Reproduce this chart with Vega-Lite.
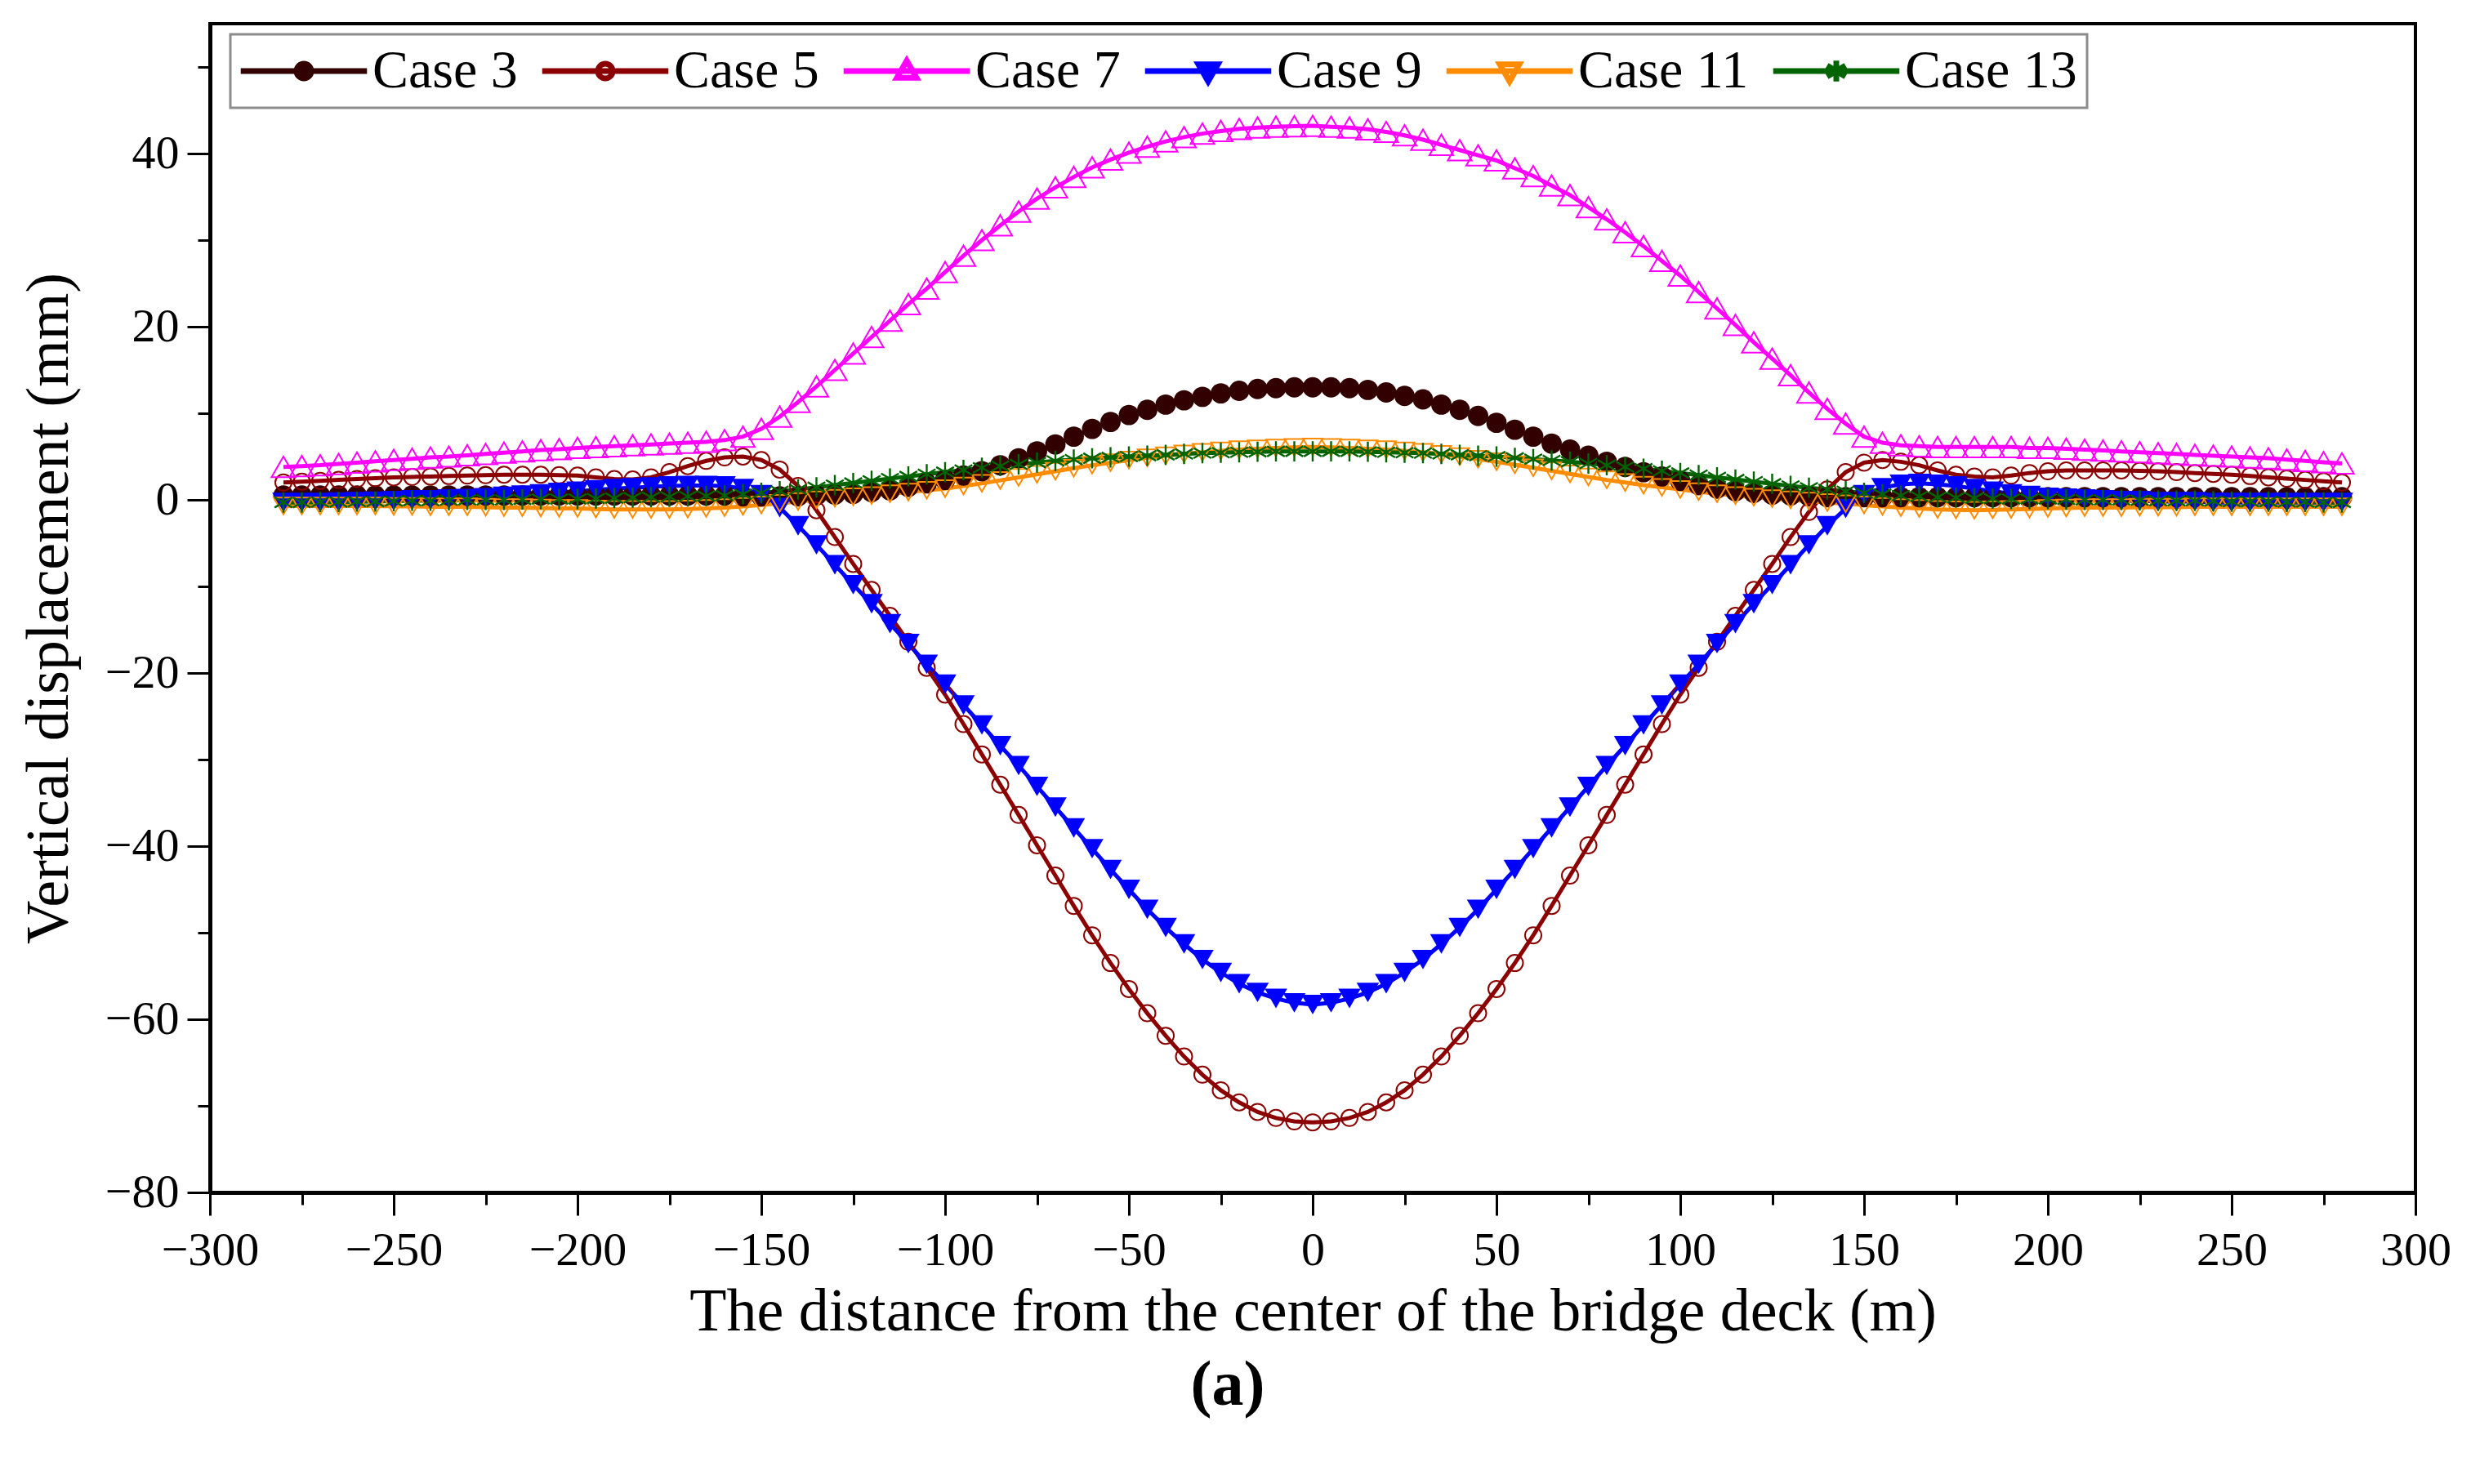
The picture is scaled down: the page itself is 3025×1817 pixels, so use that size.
{
  "$schema": "https://vega.github.io/schema/vega-lite/v6.json",
  "width": 2700,
  "height": 1431,
  "autosize": {"type": "none"},
  "padding": {"left": 257, "top": 29, "right": 68, "bottom": 357},
  "background": "white",
  "title": {
    "text": "(a)",
    "orient": "bottom",
    "anchor": "middle",
    "frame": "bounds",
    "font": "Liberation Serif",
    "fontSize": 78,
    "fontWeight": "bold",
    "color": "black",
    "offset": 15,
    "dx": -9
  },
  "data": {
    "values": [
      {"x":-280,"y":0.5,"case":"Case 3"},{"x":-275,"y":0.5,"case":"Case 3"},{"x":-270,"y":0.5,"case":"Case 3"},{"x":-265,"y":0.5,"case":"Case 3"},{"x":-260,"y":0.5,"case":"Case 3"},{"x":-255,"y":0.5,"case":"Case 3"},{"x":-250,"y":0.5,"case":"Case 3"},{"x":-245,"y":0.5,"case":"Case 3"},{"x":-240,"y":0.5,"case":"Case 3"},{"x":-235,"y":0.5,"case":"Case 3"},{"x":-230,"y":0.5,"case":"Case 3"},{"x":-225,"y":0.5,"case":"Case 3"},{"x":-220,"y":0.5,"case":"Case 3"},{"x":-215,"y":0.5,"case":"Case 3"},{"x":-210,"y":0.5,"case":"Case 3"},{"x":-205,"y":0.5,"case":"Case 3"},{"x":-200,"y":0.5,"case":"Case 3"},{"x":-195,"y":0.5,"case":"Case 3"},{"x":-190,"y":0.5,"case":"Case 3"},{"x":-185,"y":0.5,"case":"Case 3"},{"x":-180,"y":0.5,"case":"Case 3"},{"x":-175,"y":0.5,"case":"Case 3"},{"x":-170,"y":0.5,"case":"Case 3"},{"x":-165,"y":0.5,"case":"Case 3"},{"x":-160,"y":0.5,"case":"Case 3"},
      {"x":-155,"y":0.4,"case":"Case 3"},{"x":-150,"y":0.4,"case":"Case 3"},{"x":-145,"y":0.4,"case":"Case 3"},{"x":-140,"y":0.4,"case":"Case 3"},{"x":-135,"y":0.5,"case":"Case 3"},{"x":-130,"y":0.6,"case":"Case 3"},{"x":-125,"y":0.7,"case":"Case 3"},{"x":-120,"y":0.9,"case":"Case 3"},{"x":-115,"y":1.1,"case":"Case 3"},{"x":-110,"y":1.5,"case":"Case 3"},{"x":-105,"y":1.9,"case":"Case 3"},{"x":-100,"y":2.3,"case":"Case 3"},{"x":-95,"y":2.8,"case":"Case 3"},{"x":-90,"y":3.3,"case":"Case 3"},{"x":-85,"y":4.0,"case":"Case 3"},{"x":-80,"y":4.8,"case":"Case 3"},{"x":-75,"y":5.6,"case":"Case 3"},{"x":-70,"y":6.4,"case":"Case 3"},{"x":-65,"y":7.3,"case":"Case 3"},{"x":-60,"y":8.2,"case":"Case 3"},{"x":-55,"y":9.0,"case":"Case 3"},{"x":-50,"y":9.8,"case":"Case 3"},{"x":-45,"y":10.4,"case":"Case 3"},{"x":-40,"y":11.0,"case":"Case 3"},{"x":-35,"y":11.5,"case":"Case 3"},{"x":-30,"y":11.9,"case":"Case 3"},{"x":-25,"y":12.3,"case":"Case 3"},{"x":-20,"y":12.6,"case":"Case 3"},{"x":-15,"y":12.8,"case":"Case 3"},{"x":-10,"y":12.9,"case":"Case 3"},{"x":-5,"y":13.0,"case":"Case 3"},{"x":0,"y":13.0,"case":"Case 3"},{"x":5,"y":13.0,"case":"Case 3"},{"x":10,"y":12.9,"case":"Case 3"},{"x":15,"y":12.7,"case":"Case 3"},{"x":20,"y":12.4,"case":"Case 3"},{"x":25,"y":12.0,"case":"Case 3"},{"x":30,"y":11.6,"case":"Case 3"},{"x":35,"y":11.0,"case":"Case 3"},{"x":40,"y":10.4,"case":"Case 3"},{"x":45,"y":9.7,"case":"Case 3"},{"x":50,"y":8.9,"case":"Case 3"},{"x":55,"y":8.1,"case":"Case 3"},{"x":60,"y":7.3,"case":"Case 3"},{"x":65,"y":6.5,"case":"Case 3"},{"x":70,"y":5.8,"case":"Case 3"},{"x":75,"y":5.1,"case":"Case 3"},{"x":80,"y":4.4,"case":"Case 3"},{"x":85,"y":3.8,"case":"Case 3"},{"x":90,"y":3.2,"case":"Case 3"},{"x":95,"y":2.7,"case":"Case 3"},{"x":100,"y":2.2,"case":"Case 3"},{"x":105,"y":1.7,"case":"Case 3"},{"x":110,"y":1.3,"case":"Case 3"},{"x":115,"y":1.0,"case":"Case 3"},{"x":120,"y":0.8,"case":"Case 3"},{"x":125,"y":0.6,"case":"Case 3"},{"x":130,"y":0.5,"case":"Case 3"},{"x":135,"y":0.4,"case":"Case 3"},{"x":140,"y":0.3,"case":"Case 3"},
      {"x":145,"y":0.3,"case":"Case 3"},{"x":150,"y":0.3,"case":"Case 3"},{"x":155,"y":0.3,"case":"Case 3"},{"x":160,"y":0.3,"case":"Case 3"},{"x":165,"y":0.3,"case":"Case 3"},{"x":170,"y":0.3,"case":"Case 3"},{"x":175,"y":0.3,"case":"Case 3"},{"x":180,"y":0.3,"case":"Case 3"},{"x":185,"y":0.3,"case":"Case 3"},{"x":190,"y":0.3,"case":"Case 3"},{"x":195,"y":0.3,"case":"Case 3"},{"x":200,"y":0.3,"case":"Case 3"},{"x":205,"y":0.3,"case":"Case 3"},{"x":210,"y":0.3,"case":"Case 3"},{"x":215,"y":0.3,"case":"Case 3"},{"x":220,"y":0.3,"case":"Case 3"},{"x":225,"y":0.3,"case":"Case 3"},{"x":230,"y":0.3,"case":"Case 3"},{"x":235,"y":0.3,"case":"Case 3"},{"x":240,"y":0.3,"case":"Case 3"},{"x":245,"y":0.3,"case":"Case 3"},{"x":250,"y":0.3,"case":"Case 3"},{"x":255,"y":0.3,"case":"Case 3"},{"x":260,"y":0.3,"case":"Case 3"},{"x":265,"y":0.3,"case":"Case 3"},{"x":270,"y":0.3,"case":"Case 3"},{"x":275,"y":0.3,"case":"Case 3"},{"x":280,"y":0.3,"case":"Case 3"},

      {"x":-280,"y":2.0,"case":"Case 5"},{"x":-275,"y":2.1,"case":"Case 5"},{"x":-270,"y":2.2,"case":"Case 5"},{"x":-265,"y":2.3,"case":"Case 5"},{"x":-260,"y":2.4,"case":"Case 5"},{"x":-255,"y":2.5,"case":"Case 5"},{"x":-250,"y":2.6,"case":"Case 5"},{"x":-245,"y":2.65,"case":"Case 5"},{"x":-240,"y":2.7,"case":"Case 5"},{"x":-235,"y":2.75,"case":"Case 5"},{"x":-230,"y":2.8,"case":"Case 5"},{"x":-225,"y":2.85,"case":"Case 5"},{"x":-220,"y":2.9,"case":"Case 5"},{"x":-215,"y":2.9,"case":"Case 5"},{"x":-210,"y":2.9,"case":"Case 5"},{"x":-205,"y":2.85,"case":"Case 5"},{"x":-200,"y":2.8,"case":"Case 5"},{"x":-195,"y":2.6,"case":"Case 5"},{"x":-190,"y":2.4,"case":"Case 5"},{"x":-185,"y":2.35,"case":"Case 5"},{"x":-180,"y":2.6,"case":"Case 5"},{"x":-175,"y":3.2,"case":"Case 5"},{"x":-170,"y":3.9,"case":"Case 5"},{"x":-165,"y":4.5,"case":"Case 5"},{"x":-160,"y":4.9,"case":"Case 5"},{"x":-155,"y":5.0,"case":"Case 5"},{"x":-150,"y":4.6,"case":"Case 5"},{"x":-145,"y":3.5,"case":"Case 5"},{"x":-140,"y":1.6,"case":"Case 5"},{"x":-135,"y":-1.2,"case":"Case 5"},{"x":-130,"y":-4.3,"case":"Case 5"},{"x":-125,"y":-7.4,"case":"Case 5"},{"x":-120,"y":-10.4,"case":"Case 5"},{"x":-115,"y":-13.4,"case":"Case 5"},{"x":-110,"y":-16.4,"case":"Case 5"},{"x":-105,"y":-19.4,"case":"Case 5"},{"x":-100,"y":-22.5,"case":"Case 5"},{"x":-95,"y":-25.9,"case":"Case 5"},{"x":-90,"y":-29.4,"case":"Case 5"},{"x":-85,"y":-32.9,"case":"Case 5"},{"x":-80,"y":-36.4,"case":"Case 5"},{"x":-75,"y":-39.9,"case":"Case 5"},{"x":-70,"y":-43.4,"case":"Case 5"},{"x":-65,"y":-46.9,"case":"Case 5"},{"x":-60,"y":-50.3,"case":"Case 5"},{"x":-55,"y":-53.5,"case":"Case 5"},{"x":-50,"y":-56.5,"case":"Case 5"},{"x":-45,"y":-59.3,"case":"Case 5"},{"x":-40,"y":-61.9,"case":"Case 5"},{"x":-35,"y":-64.3,"case":"Case 5"},{"x":-30,"y":-66.4,"case":"Case 5"},{"x":-25,"y":-68.2,"case":"Case 5"},{"x":-20,"y":-69.6,"case":"Case 5"},{"x":-15,"y":-70.7,"case":"Case 5"},{"x":-10,"y":-71.4,"case":"Case 5"},{"x":-5,"y":-71.8,"case":"Case 5"},{"x":0,"y":-71.9,"case":"Case 5"},{"x":5,"y":-71.8,"case":"Case 5"},{"x":10,"y":-71.4,"case":"Case 5"},{"x":15,"y":-70.7,"case":"Case 5"},{"x":20,"y":-69.6,"case":"Case 5"},{"x":25,"y":-68.2,"case":"Case 5"},{"x":30,"y":-66.4,"case":"Case 5"},{"x":35,"y":-64.3,"case":"Case 5"},{"x":40,"y":-61.9,"case":"Case 5"},{"x":45,"y":-59.3,"case":"Case 5"},{"x":50,"y":-56.5,"case":"Case 5"},{"x":55,"y":-53.5,"case":"Case 5"},{"x":60,"y":-50.3,"case":"Case 5"},{"x":65,"y":-46.9,"case":"Case 5"},{"x":70,"y":-43.4,"case":"Case 5"},{"x":75,"y":-39.9,"case":"Case 5"},{"x":80,"y":-36.4,"case":"Case 5"},{"x":85,"y":-32.9,"case":"Case 5"},{"x":90,"y":-29.4,"case":"Case 5"},{"x":95,"y":-25.9,"case":"Case 5"},{"x":100,"y":-22.5,"case":"Case 5"},{"x":105,"y":-19.4,"case":"Case 5"},{"x":110,"y":-16.4,"case":"Case 5"},{"x":115,"y":-13.4,"case":"Case 5"},{"x":120,"y":-10.4,"case":"Case 5"},{"x":125,"y":-7.4,"case":"Case 5"},{"x":130,"y":-4.3,"case":"Case 5"},{"x":135,"y":-1.4,"case":"Case 5"},{"x":140,"y":1.2,"case":"Case 5"},{"x":145,"y":3.2,"case":"Case 5"},{"x":150,"y":4.3,"case":"Case 5"},{"x":155,"y":4.6,"case":"Case 5"},{"x":160,"y":4.4,"case":"Case 5"},{"x":165,"y":4.0,"case":"Case 5"},{"x":170,"y":3.4,"case":"Case 5"},{"x":175,"y":2.9,"case":"Case 5"},{"x":180,"y":2.7,"case":"Case 5"},{"x":185,"y":2.6,"case":"Case 5"},{"x":190,"y":2.8,"case":"Case 5"},{"x":195,"y":3.1,"case":"Case 5"},{"x":200,"y":3.3,"case":"Case 5"},{"x":205,"y":3.4,"case":"Case 5"},{"x":210,"y":3.4,"case":"Case 5"},{"x":215,"y":3.4,"case":"Case 5"},{"x":220,"y":3.4,"case":"Case 5"},{"x":225,"y":3.35,"case":"Case 5"},{"x":230,"y":3.3,"case":"Case 5"},{"x":235,"y":3.2,"case":"Case 5"},{"x":240,"y":3.1,"case":"Case 5"},{"x":245,"y":3.0,"case":"Case 5"},{"x":250,"y":2.9,"case":"Case 5"},{"x":255,"y":2.75,"case":"Case 5"},{"x":260,"y":2.6,"case":"Case 5"},{"x":265,"y":2.45,"case":"Case 5"},{"x":270,"y":2.3,"case":"Case 5"},{"x":275,"y":2.15,"case":"Case 5"},{"x":280,"y":2.0,"case":"Case 5"},

      {"x":-280,"y":3.8,"case":"Case 7"},{"x":-275,"y":3.9,"case":"Case 7"},{"x":-270,"y":4.0,"case":"Case 7"},{"x":-265,"y":4.15,"case":"Case 7"},{"x":-260,"y":4.3,"case":"Case 7"},{"x":-255,"y":4.45,"case":"Case 7"},{"x":-250,"y":4.6,"case":"Case 7"},{"x":-245,"y":4.75,"case":"Case 7"},{"x":-240,"y":4.9,"case":"Case 7"},{"x":-235,"y":5.0,"case":"Case 7"},{"x":-230,"y":5.15,"case":"Case 7"},{"x":-225,"y":5.3,"case":"Case 7"},{"x":-220,"y":5.45,"case":"Case 7"},{"x":-215,"y":5.6,"case":"Case 7"},{"x":-210,"y":5.75,"case":"Case 7"},{"x":-205,"y":5.85,"case":"Case 7"},{"x":-200,"y":6.0,"case":"Case 7"},{"x":-195,"y":6.1,"case":"Case 7"},{"x":-190,"y":6.2,"case":"Case 7"},{"x":-185,"y":6.3,"case":"Case 7"},{"x":-180,"y":6.4,"case":"Case 7"},{"x":-175,"y":6.5,"case":"Case 7"},{"x":-170,"y":6.6,"case":"Case 7"},{"x":-165,"y":6.7,"case":"Case 7"},{"x":-160,"y":6.9,"case":"Case 7"},{"x":-155,"y":7.3,"case":"Case 7"},{"x":-150,"y":8.2,"case":"Case 7"},{"x":-145,"y":9.6,"case":"Case 7"},{"x":-140,"y":11.3,"case":"Case 7"},{"x":-135,"y":13.1,"case":"Case 7"},{"x":-130,"y":15.0,"case":"Case 7"},{"x":-125,"y":16.9,"case":"Case 7"},{"x":-120,"y":18.8,"case":"Case 7"},{"x":-115,"y":20.7,"case":"Case 7"},{"x":-110,"y":22.6,"case":"Case 7"},{"x":-105,"y":24.4,"case":"Case 7"},{"x":-100,"y":26.3,"case":"Case 7"},{"x":-95,"y":28.2,"case":"Case 7"},{"x":-90,"y":30.0,"case":"Case 7"},{"x":-85,"y":31.7,"case":"Case 7"},{"x":-80,"y":33.3,"case":"Case 7"},{"x":-75,"y":34.8,"case":"Case 7"},{"x":-70,"y":36.1,"case":"Case 7"},{"x":-65,"y":37.3,"case":"Case 7"},{"x":-60,"y":38.4,"case":"Case 7"},{"x":-55,"y":39.3,"case":"Case 7"},{"x":-50,"y":40.1,"case":"Case 7"},{"x":-45,"y":40.8,"case":"Case 7"},{"x":-40,"y":41.4,"case":"Case 7"},{"x":-35,"y":41.9,"case":"Case 7"},{"x":-30,"y":42.3,"case":"Case 7"},{"x":-25,"y":42.6,"case":"Case 7"},{"x":-20,"y":42.85,"case":"Case 7"},{"x":-15,"y":43.0,"case":"Case 7"},{"x":-10,"y":43.1,"case":"Case 7"},{"x":-5,"y":43.15,"case":"Case 7"},{"x":0,"y":43.2,"case":"Case 7"},{"x":5,"y":43.1,"case":"Case 7"},{"x":10,"y":43.0,"case":"Case 7"},{"x":15,"y":42.8,"case":"Case 7"},{"x":20,"y":42.5,"case":"Case 7"},{"x":25,"y":42.1,"case":"Case 7"},{"x":30,"y":41.6,"case":"Case 7"},{"x":35,"y":41.0,"case":"Case 7"},{"x":40,"y":40.4,"case":"Case 7"},{"x":45,"y":39.8,"case":"Case 7"},{"x":50,"y":39.2,"case":"Case 7"},{"x":55,"y":38.3,"case":"Case 7"},{"x":60,"y":37.4,"case":"Case 7"},{"x":65,"y":36.3,"case":"Case 7"},{"x":70,"y":35.2,"case":"Case 7"},{"x":75,"y":33.8,"case":"Case 7"},{"x":80,"y":32.4,"case":"Case 7"},{"x":85,"y":30.9,"case":"Case 7"},{"x":90,"y":29.3,"case":"Case 7"},{"x":95,"y":27.6,"case":"Case 7"},{"x":100,"y":25.9,"case":"Case 7"},{"x":105,"y":24.0,"case":"Case 7"},{"x":110,"y":22.1,"case":"Case 7"},{"x":115,"y":20.2,"case":"Case 7"},{"x":120,"y":18.2,"case":"Case 7"},{"x":125,"y":16.3,"case":"Case 7"},{"x":130,"y":14.4,"case":"Case 7"},{"x":135,"y":12.4,"case":"Case 7"},{"x":140,"y":10.5,"case":"Case 7"},{"x":145,"y":8.8,"case":"Case 7"},{"x":150,"y":7.3,"case":"Case 7"},{"x":155,"y":6.6,"case":"Case 7"},{"x":160,"y":6.3,"case":"Case 7"},{"x":165,"y":6.2,"case":"Case 7"},{"x":170,"y":6.1,"case":"Case 7"},{"x":175,"y":6.1,"case":"Case 7"},{"x":180,"y":6.1,"case":"Case 7"},{"x":185,"y":6.1,"case":"Case 7"},{"x":190,"y":6.1,"case":"Case 7"},{"x":195,"y":6.0,"case":"Case 7"},{"x":200,"y":6.0,"case":"Case 7"},{"x":205,"y":5.9,"case":"Case 7"},{"x":210,"y":5.8,"case":"Case 7"},{"x":215,"y":5.7,"case":"Case 7"},{"x":220,"y":5.6,"case":"Case 7"},{"x":225,"y":5.5,"case":"Case 7"},{"x":230,"y":5.4,"case":"Case 7"},{"x":235,"y":5.3,"case":"Case 7"},{"x":240,"y":5.2,"case":"Case 7"},{"x":245,"y":5.1,"case":"Case 7"},{"x":250,"y":5.0,"case":"Case 7"},{"x":255,"y":4.9,"case":"Case 7"},{"x":260,"y":4.8,"case":"Case 7"},{"x":265,"y":4.65,"case":"Case 7"},{"x":270,"y":4.5,"case":"Case 7"},{"x":275,"y":4.35,"case":"Case 7"},{"x":280,"y":4.2,"case":"Case 7"},

      {"x":-280,"y":-0.3,"case":"Case 9"},{"x":-275,"y":-0.3,"case":"Case 9"},{"x":-270,"y":-0.3,"case":"Case 9"},{"x":-265,"y":-0.25,"case":"Case 9"},{"x":-260,"y":-0.2,"case":"Case 9"},{"x":-255,"y":-0.15,"case":"Case 9"},{"x":-250,"y":-0.1,"case":"Case 9"},{"x":-245,"y":0.0,"case":"Case 9"},{"x":-240,"y":0.0,"case":"Case 9"},{"x":-235,"y":0.1,"case":"Case 9"},{"x":-230,"y":0.15,"case":"Case 9"},{"x":-225,"y":0.25,"case":"Case 9"},{"x":-220,"y":0.4,"case":"Case 9"},{"x":-215,"y":0.55,"case":"Case 9"},{"x":-210,"y":0.7,"case":"Case 9"},{"x":-205,"y":0.85,"case":"Case 9"},{"x":-200,"y":1.0,"case":"Case 9"},{"x":-195,"y":1.15,"case":"Case 9"},{"x":-190,"y":1.3,"case":"Case 9"},{"x":-185,"y":1.4,"case":"Case 9"},{"x":-180,"y":1.5,"case":"Case 9"},{"x":-175,"y":1.6,"case":"Case 9"},{"x":-170,"y":1.65,"case":"Case 9"},{"x":-165,"y":1.65,"case":"Case 9"},{"x":-160,"y":1.6,"case":"Case 9"},{"x":-155,"y":1.3,"case":"Case 9"},{"x":-150,"y":0.6,"case":"Case 9"},{"x":-145,"y":-0.9,"case":"Case 9"},{"x":-140,"y":-3.0,"case":"Case 9"},{"x":-135,"y":-5.2,"case":"Case 9"},{"x":-130,"y":-7.5,"case":"Case 9"},{"x":-125,"y":-9.8,"case":"Case 9"},{"x":-120,"y":-12.0,"case":"Case 9"},{"x":-115,"y":-14.3,"case":"Case 9"},{"x":-110,"y":-16.6,"case":"Case 9"},{"x":-105,"y":-19.0,"case":"Case 9"},{"x":-100,"y":-21.3,"case":"Case 9"},{"x":-95,"y":-23.7,"case":"Case 9"},{"x":-90,"y":-26.0,"case":"Case 9"},{"x":-85,"y":-28.4,"case":"Case 9"},{"x":-80,"y":-30.7,"case":"Case 9"},{"x":-75,"y":-33.1,"case":"Case 9"},{"x":-70,"y":-35.5,"case":"Case 9"},{"x":-65,"y":-37.9,"case":"Case 9"},{"x":-60,"y":-40.3,"case":"Case 9"},{"x":-55,"y":-42.7,"case":"Case 9"},{"x":-50,"y":-45.0,"case":"Case 9"},{"x":-45,"y":-47.3,"case":"Case 9"},{"x":-40,"y":-49.4,"case":"Case 9"},{"x":-35,"y":-51.3,"case":"Case 9"},{"x":-30,"y":-53.1,"case":"Case 9"},{"x":-25,"y":-54.6,"case":"Case 9"},{"x":-20,"y":-55.9,"case":"Case 9"},{"x":-15,"y":-56.9,"case":"Case 9"},{"x":-10,"y":-57.6,"case":"Case 9"},{"x":-5,"y":-58.1,"case":"Case 9"},{"x":0,"y":-58.3,"case":"Case 9"},{"x":5,"y":-58.1,"case":"Case 9"},{"x":10,"y":-57.6,"case":"Case 9"},{"x":15,"y":-56.9,"case":"Case 9"},{"x":20,"y":-55.9,"case":"Case 9"},{"x":25,"y":-54.6,"case":"Case 9"},{"x":30,"y":-53.1,"case":"Case 9"},{"x":35,"y":-51.3,"case":"Case 9"},{"x":40,"y":-49.4,"case":"Case 9"},{"x":45,"y":-47.3,"case":"Case 9"},{"x":50,"y":-45.0,"case":"Case 9"},{"x":55,"y":-42.7,"case":"Case 9"},{"x":60,"y":-40.3,"case":"Case 9"},{"x":65,"y":-37.9,"case":"Case 9"},{"x":70,"y":-35.5,"case":"Case 9"},{"x":75,"y":-33.1,"case":"Case 9"},{"x":80,"y":-30.7,"case":"Case 9"},{"x":85,"y":-28.4,"case":"Case 9"},{"x":90,"y":-26.0,"case":"Case 9"},{"x":95,"y":-23.7,"case":"Case 9"},{"x":100,"y":-21.3,"case":"Case 9"},{"x":105,"y":-19.0,"case":"Case 9"},{"x":110,"y":-16.6,"case":"Case 9"},{"x":115,"y":-14.3,"case":"Case 9"},{"x":120,"y":-12.0,"case":"Case 9"},{"x":125,"y":-9.8,"case":"Case 9"},{"x":130,"y":-7.5,"case":"Case 9"},{"x":135,"y":-5.2,"case":"Case 9"},{"x":140,"y":-3.0,"case":"Case 9"},{"x":145,"y":-1.0,"case":"Case 9"},{"x":150,"y":0.6,"case":"Case 9"},{"x":155,"y":1.4,"case":"Case 9"},{"x":160,"y":1.8,"case":"Case 9"},{"x":165,"y":1.9,"case":"Case 9"},{"x":170,"y":1.8,"case":"Case 9"},{"x":175,"y":1.6,"case":"Case 9"},{"x":180,"y":1.3,"case":"Case 9"},{"x":185,"y":1.0,"case":"Case 9"},{"x":190,"y":0.7,"case":"Case 9"},{"x":195,"y":0.5,"case":"Case 9"},{"x":200,"y":0.3,"case":"Case 9"},{"x":205,"y":0.2,"case":"Case 9"},{"x":210,"y":0.1,"case":"Case 9"},{"x":215,"y":0.0,"case":"Case 9"},{"x":220,"y":-0.1,"case":"Case 9"},{"x":225,"y":-0.1,"case":"Case 9"},{"x":230,"y":-0.2,"case":"Case 9"},{"x":235,"y":-0.2,"case":"Case 9"},{"x":240,"y":-0.2,"case":"Case 9"},{"x":245,"y":-0.3,"case":"Case 9"},{"x":250,"y":-0.3,"case":"Case 9"},{"x":255,"y":-0.3,"case":"Case 9"},{"x":260,"y":-0.3,"case":"Case 9"},{"x":265,"y":-0.3,"case":"Case 9"},{"x":270,"y":-0.3,"case":"Case 9"},{"x":275,"y":-0.3,"case":"Case 9"},{"x":280,"y":-0.3,"case":"Case 9"},

      {"x":-280,"y":-0.7,"case":"Case 11"},{"x":-275,"y":-0.7,"case":"Case 11"},{"x":-270,"y":-0.7,"case":"Case 11"},{"x":-265,"y":-0.7,"case":"Case 11"},{"x":-260,"y":-0.7,"case":"Case 11"},{"x":-255,"y":-0.7,"case":"Case 11"},{"x":-250,"y":-0.75,"case":"Case 11"},{"x":-245,"y":-0.75,"case":"Case 11"},{"x":-240,"y":-0.8,"case":"Case 11"},{"x":-235,"y":-0.8,"case":"Case 11"},{"x":-230,"y":-0.8,"case":"Case 11"},{"x":-225,"y":-0.85,"case":"Case 11"},{"x":-220,"y":-0.9,"case":"Case 11"},{"x":-215,"y":-0.9,"case":"Case 11"},{"x":-210,"y":-0.95,"case":"Case 11"},{"x":-205,"y":-1.0,"case":"Case 11"},{"x":-200,"y":-1.0,"case":"Case 11"},{"x":-195,"y":-1.05,"case":"Case 11"},{"x":-190,"y":-1.1,"case":"Case 11"},{"x":-185,"y":-1.1,"case":"Case 11"},{"x":-180,"y":-1.1,"case":"Case 11"},{"x":-175,"y":-1.1,"case":"Case 11"},{"x":-170,"y":-1.05,"case":"Case 11"},{"x":-165,"y":-1.0,"case":"Case 11"},{"x":-160,"y":-0.9,"case":"Case 11"},{"x":-155,"y":-0.75,"case":"Case 11"},{"x":-150,"y":-0.6,"case":"Case 11"},{"x":-145,"y":-0.4,"case":"Case 11"},{"x":-140,"y":-0.2,"case":"Case 11"},{"x":-135,"y":0.0,"case":"Case 11"},{"x":-130,"y":0.2,"case":"Case 11"},{"x":-125,"y":0.35,"case":"Case 11"},{"x":-120,"y":0.5,"case":"Case 11"},{"x":-115,"y":0.7,"case":"Case 11"},{"x":-110,"y":0.9,"case":"Case 11"},{"x":-105,"y":1.1,"case":"Case 11"},{"x":-100,"y":1.3,"case":"Case 11"},{"x":-95,"y":1.6,"case":"Case 11"},{"x":-90,"y":1.9,"case":"Case 11"},{"x":-85,"y":2.25,"case":"Case 11"},{"x":-80,"y":2.6,"case":"Case 11"},{"x":-75,"y":2.95,"case":"Case 11"},{"x":-70,"y":3.3,"case":"Case 11"},{"x":-65,"y":3.65,"case":"Case 11"},{"x":-60,"y":4.0,"case":"Case 11"},{"x":-55,"y":4.3,"case":"Case 11"},{"x":-50,"y":4.6,"case":"Case 11"},{"x":-45,"y":4.85,"case":"Case 11"},{"x":-40,"y":5.1,"case":"Case 11"},{"x":-35,"y":5.3,"case":"Case 11"},{"x":-30,"y":5.5,"case":"Case 11"},{"x":-25,"y":5.65,"case":"Case 11"},{"x":-20,"y":5.8,"case":"Case 11"},{"x":-15,"y":5.9,"case":"Case 11"},{"x":-10,"y":6.0,"case":"Case 11"},{"x":-5,"y":6.05,"case":"Case 11"},{"x":0,"y":6.1,"case":"Case 11"},{"x":5,"y":6.05,"case":"Case 11"},{"x":10,"y":6.0,"case":"Case 11"},{"x":15,"y":5.9,"case":"Case 11"},{"x":20,"y":5.8,"case":"Case 11"},{"x":25,"y":5.65,"case":"Case 11"},{"x":30,"y":5.5,"case":"Case 11"},{"x":35,"y":5.25,"case":"Case 11"},{"x":40,"y":5.0,"case":"Case 11"},{"x":45,"y":4.7,"case":"Case 11"},{"x":50,"y":4.4,"case":"Case 11"},{"x":55,"y":4.05,"case":"Case 11"},{"x":60,"y":3.7,"case":"Case 11"},{"x":65,"y":3.35,"case":"Case 11"},{"x":70,"y":3.0,"case":"Case 11"},{"x":75,"y":2.65,"case":"Case 11"},{"x":80,"y":2.3,"case":"Case 11"},{"x":85,"y":2.0,"case":"Case 11"},{"x":90,"y":1.7,"case":"Case 11"},{"x":95,"y":1.45,"case":"Case 11"},{"x":100,"y":1.2,"case":"Case 11"},{"x":105,"y":0.95,"case":"Case 11"},{"x":110,"y":0.7,"case":"Case 11"},{"x":115,"y":0.5,"case":"Case 11"},{"x":120,"y":0.3,"case":"Case 11"},{"x":125,"y":0.15,"case":"Case 11"},{"x":130,"y":0.0,"case":"Case 11"},{"x":135,"y":-0.15,"case":"Case 11"},{"x":140,"y":-0.3,"case":"Case 11"},{"x":145,"y":-0.45,"case":"Case 11"},{"x":150,"y":-0.6,"case":"Case 11"},{"x":155,"y":-0.75,"case":"Case 11"},{"x":160,"y":-0.9,"case":"Case 11"},{"x":165,"y":-1.0,"case":"Case 11"},{"x":170,"y":-1.1,"case":"Case 11"},{"x":175,"y":-1.15,"case":"Case 11"},{"x":180,"y":-1.2,"case":"Case 11"},{"x":185,"y":-1.15,"case":"Case 11"},{"x":190,"y":-1.1,"case":"Case 11"},{"x":195,"y":-1.05,"case":"Case 11"},{"x":200,"y":-1.0,"case":"Case 11"},{"x":205,"y":-0.95,"case":"Case 11"},{"x":210,"y":-0.9,"case":"Case 11"},{"x":215,"y":-0.9,"case":"Case 11"},{"x":220,"y":-0.9,"case":"Case 11"},{"x":225,"y":-0.85,"case":"Case 11"},{"x":230,"y":-0.85,"case":"Case 11"},{"x":235,"y":-0.85,"case":"Case 11"},{"x":240,"y":-0.8,"case":"Case 11"},{"x":245,"y":-0.8,"case":"Case 11"},{"x":250,"y":-0.8,"case":"Case 11"},{"x":255,"y":-0.8,"case":"Case 11"},{"x":260,"y":-0.8,"case":"Case 11"},{"x":265,"y":-0.8,"case":"Case 11"},{"x":270,"y":-0.8,"case":"Case 11"},{"x":275,"y":-0.8,"case":"Case 11"},{"x":280,"y":-0.8,"case":"Case 11"},

      {"x":-280,"y":-0.3,"case":"Case 13"},{"x":-275,"y":-0.3,"case":"Case 13"},{"x":-270,"y":-0.25,"case":"Case 13"},{"x":-265,"y":-0.25,"case":"Case 13"},{"x":-260,"y":-0.2,"case":"Case 13"},{"x":-255,"y":-0.2,"case":"Case 13"},{"x":-250,"y":-0.15,"case":"Case 13"},{"x":-245,"y":-0.1,"case":"Case 13"},{"x":-240,"y":-0.1,"case":"Case 13"},{"x":-235,"y":-0.05,"case":"Case 13"},{"x":-230,"y":0.0,"case":"Case 13"},{"x":-225,"y":0.0,"case":"Case 13"},{"x":-220,"y":0.0,"case":"Case 13"},{"x":-215,"y":0.05,"case":"Case 13"},{"x":-210,"y":0.1,"case":"Case 13"},{"x":-205,"y":0.1,"case":"Case 13"},{"x":-200,"y":0.1,"case":"Case 13"},{"x":-195,"y":0.15,"case":"Case 13"},{"x":-190,"y":0.2,"case":"Case 13"},{"x":-185,"y":0.25,"case":"Case 13"},{"x":-180,"y":0.3,"case":"Case 13"},{"x":-175,"y":0.35,"case":"Case 13"},{"x":-170,"y":0.4,"case":"Case 13"},{"x":-165,"y":0.45,"case":"Case 13"},{"x":-160,"y":0.5,"case":"Case 13"},{"x":-155,"y":0.65,"case":"Case 13"},{"x":-150,"y":0.8,"case":"Case 13"},{"x":-145,"y":1.0,"case":"Case 13"},{"x":-140,"y":1.2,"case":"Case 13"},{"x":-135,"y":1.45,"case":"Case 13"},{"x":-130,"y":1.7,"case":"Case 13"},{"x":-125,"y":1.95,"case":"Case 13"},{"x":-120,"y":2.2,"case":"Case 13"},{"x":-115,"y":2.45,"case":"Case 13"},{"x":-110,"y":2.7,"case":"Case 13"},{"x":-105,"y":2.95,"case":"Case 13"},{"x":-100,"y":3.2,"case":"Case 13"},{"x":-95,"y":3.45,"case":"Case 13"},{"x":-90,"y":3.7,"case":"Case 13"},{"x":-85,"y":3.9,"case":"Case 13"},{"x":-80,"y":4.1,"case":"Case 13"},{"x":-75,"y":4.3,"case":"Case 13"},{"x":-70,"y":4.5,"case":"Case 13"},{"x":-65,"y":4.65,"case":"Case 13"},{"x":-60,"y":4.8,"case":"Case 13"},{"x":-55,"y":4.9,"case":"Case 13"},{"x":-50,"y":5.0,"case":"Case 13"},{"x":-45,"y":5.1,"case":"Case 13"},{"x":-40,"y":5.2,"case":"Case 13"},{"x":-35,"y":5.3,"case":"Case 13"},{"x":-30,"y":5.4,"case":"Case 13"},{"x":-25,"y":5.45,"case":"Case 13"},{"x":-20,"y":5.5,"case":"Case 13"},{"x":-15,"y":5.55,"case":"Case 13"},{"x":-10,"y":5.6,"case":"Case 13"},{"x":-5,"y":5.6,"case":"Case 13"},{"x":0,"y":5.6,"case":"Case 13"},{"x":5,"y":5.6,"case":"Case 13"},{"x":10,"y":5.6,"case":"Case 13"},{"x":15,"y":5.55,"case":"Case 13"},{"x":20,"y":5.5,"case":"Case 13"},{"x":25,"y":5.45,"case":"Case 13"},{"x":30,"y":5.4,"case":"Case 13"},{"x":35,"y":5.3,"case":"Case 13"},{"x":40,"y":5.2,"case":"Case 13"},{"x":45,"y":5.1,"case":"Case 13"},{"x":50,"y":5.0,"case":"Case 13"},{"x":55,"y":4.85,"case":"Case 13"},{"x":60,"y":4.7,"case":"Case 13"},{"x":65,"y":4.55,"case":"Case 13"},{"x":70,"y":4.4,"case":"Case 13"},{"x":75,"y":4.2,"case":"Case 13"},{"x":80,"y":4.0,"case":"Case 13"},{"x":85,"y":3.8,"case":"Case 13"},{"x":90,"y":3.6,"case":"Case 13"},{"x":95,"y":3.35,"case":"Case 13"},{"x":100,"y":3.1,"case":"Case 13"},{"x":105,"y":2.85,"case":"Case 13"},{"x":110,"y":2.6,"case":"Case 13"},{"x":115,"y":2.35,"case":"Case 13"},{"x":120,"y":2.1,"case":"Case 13"},{"x":125,"y":1.85,"case":"Case 13"},{"x":130,"y":1.6,"case":"Case 13"},{"x":135,"y":1.4,"case":"Case 13"},{"x":140,"y":1.2,"case":"Case 13"},{"x":145,"y":1.0,"case":"Case 13"},{"x":150,"y":0.8,"case":"Case 13"},{"x":155,"y":0.65,"case":"Case 13"},{"x":160,"y":0.5,"case":"Case 13"},{"x":165,"y":0.4,"case":"Case 13"},{"x":170,"y":0.3,"case":"Case 13"},{"x":175,"y":0.25,"case":"Case 13"},{"x":180,"y":0.2,"case":"Case 13"},{"x":185,"y":0.15,"case":"Case 13"},{"x":190,"y":0.1,"case":"Case 13"},{"x":195,"y":0.1,"case":"Case 13"},{"x":200,"y":0.1,"case":"Case 13"},{"x":205,"y":0.05,"case":"Case 13"},{"x":210,"y":0.0,"case":"Case 13"},{"x":215,"y":0.0,"case":"Case 13"},{"x":220,"y":0.0,"case":"Case 13"},{"x":225,"y":-0.05,"case":"Case 13"},{"x":230,"y":-0.1,"case":"Case 13"},{"x":235,"y":-0.1,"case":"Case 13"},{"x":240,"y":-0.1,"case":"Case 13"},{"x":245,"y":-0.15,"case":"Case 13"},{"x":250,"y":-0.2,"case":"Case 13"},{"x":255,"y":-0.2,"case":"Case 13"},{"x":260,"y":-0.2,"case":"Case 13"},{"x":265,"y":-0.25,"case":"Case 13"},{"x":270,"y":-0.25,"case":"Case 13"},{"x":275,"y":-0.3,"case":"Case 13"},{"x":280,"y":-0.3,"case":"Case 13"}
    ]
  },
  "encoding": {
    "x": {
      "field": "x",
      "type": "quantitative",
      "scale": {"domain": [-300, 300], "nice": false, "zero": false},
      "axis": {
        "title": "The distance from the center of the bridge deck (m)",
        "values": [-300,-275,-250,-225,-200,-175,-150,-125,-100,-75,-50,-25,0,25,50,75,100,125,150,175,200,225,250,275,300],
        "labelExpr": "datum.value % 50 === 0 ? datum.label : ''",
        "tickSize": {"condition": {"test": "datum.value % 50 === 0", "value": 28}, "value": 15},
        "tickWidth": 3,
        "tickColor": "black",
        "domainColor": "black",
        "domainWidth": 5,
        "grid": false,
        "labelFont": "Liberation Serif",
        "labelFontSize": 58,
        "labelColor": "black",
        "labelPadding": 14,
        "labelFlush": false,
        "labelOverlap": false,
        "titleFont": "Liberation Serif",
        "titleFontSize": 74,
        "titleFontWeight": "normal",
        "titleColor": "black",
        "titlePadding": 10
      }
    },
    "y": {
      "field": "y",
      "type": "quantitative",
      "scale": {"domain": [-80, 55], "nice": false, "zero": false},
      "axis": {
        "title": "Vertical displacement (mm)",
        "values": [-80,-70,-60,-50,-40,-30,-20,-10,0,10,20,30,40,50],
        "labelExpr": "datum.value % 20 === 0 ? datum.label : ''",
        "tickSize": {"condition": {"test": "datum.value % 20 === 0", "value": 28}, "value": 15},
        "tickWidth": 3,
        "tickColor": "black",
        "domainColor": "black",
        "domainWidth": 5,
        "grid": false,
        "labelFont": "Liberation Serif",
        "labelFontSize": 58,
        "labelColor": "black",
        "labelPadding": 10,
        "labelFlush": false,
        "labelOverlap": false,
        "titleFont": "Liberation Serif",
        "titleFontSize": 74,
        "titleFontWeight": "normal",
        "titleColor": "black",
        "titlePadding": 30
      }
    },
    "color": {
      "field": "case",
      "type": "nominal",
      "scale": {
        "domain": ["Case 3", "Case 5", "Case 7", "Case 9", "Case 11", "Case 13"],
        "range": ["#330000", "#8b0000", "#ff00ff", "#0000ff", "#ff8c00", "#006400"]
      },
      "legend": {
        "orient": "none",
        "legendX": 25,
        "legendY": 13,
        "direction": "horizontal",
        "columns": 6,
        "title": null,
        "labelFont": "Liberation Serif",
        "labelFontSize": 66,
        "labelColor": "black",
        "labelLimit": 400,
        "symbolSize": 900,
        "symbolStrokeWidth": 7,
        "symbolOpacity": 1,
        "symbolOffset": 45,
        "labelOffset": 51,
        "columnPadding": 15,
        "padding": 12,
        "strokeColor": "#8c8c8c",
        "fillColor": "white",
        "encode": {
          "legend": {"update": {"strokeWidth": {"value": 3}}},
          "symbols": {
            "update": {
              "shape": {"signal": "datum.value === 'Case 3' || datum.value === 'Case 5' ? 'M-5.15,0H5.15M-0.6,0A0.6,0.6 0 1,0 0.6,0A0.6,0.6 0 1,0 -0.6,0Z' : datum.value === 'Case 7' ? 'M-5.15,0H5.15M0,-0.85L0.8,0.55L-0.8,0.55Z' : datum.value === 'Case 13' ? 'M-5.15,0H5.15M0,-0.85V0.85M-0.75,-0.45L0.75,0.45M-0.75,0.45L0.75,-0.45' : 'M-5.15,0H5.15M0,0.85L0.8,-0.55L-0.8,-0.55Z'"},
              "fillOpacity": {"signal": "datum.value === 'Case 3' || datum.value === 'Case 9' ? 1 : 0"},
              "strokeWidth": {"value": 7}
            }
          }
        }
      }
    }
  },
  "layer": [
    {"mark": {"type": "line", "strokeWidth": 5}},
    {
      "transform": [{"filter": "datum.case === 'Case 3'"}],
      "mark": {"type": "point", "shape": "circle", "filled": true, "size": 620, "opacity": 1, "strokeWidth": 1}
    },
    {
      "transform": [{"filter": "datum.case === 'Case 5'"}],
      "mark": {"type": "point", "shape": "circle", "filled": false, "size": 400, "opacity": 1, "strokeWidth": 2}
    },
    {
      "transform": [{"filter": "datum.case === 'Case 7'"}],
      "mark": {"type": "point", "shape": "triangle-up", "filled": false, "size": 850, "opacity": 1, "strokeWidth": 2}
    },
    {
      "transform": [{"filter": "datum.case === 'Case 9'"}],
      "mark": {"type": "point", "shape": "triangle-down", "filled": true, "size": 760, "opacity": 1, "strokeWidth": 1}
    },
    {
      "transform": [{"filter": "datum.case === 'Case 11'"}],
      "mark": {"type": "point", "shape": "triangle-down", "filled": false, "size": 560, "opacity": 1, "strokeWidth": 2}
    },
    {
      "transform": [{"filter": "datum.case === 'Case 13'"}],
      "mark": {"type": "point", "shape": "M0,-1V1M-0.87,-0.5L0.87,0.5M-0.87,0.5L0.87,-0.5", "filled": false, "size": 620, "opacity": 1, "strokeWidth": 2.4}
    }
  ],
  "config": {
    "view": {"stroke": "black", "strokeWidth": 4},
    "font": "Liberation Serif"
  }
}
